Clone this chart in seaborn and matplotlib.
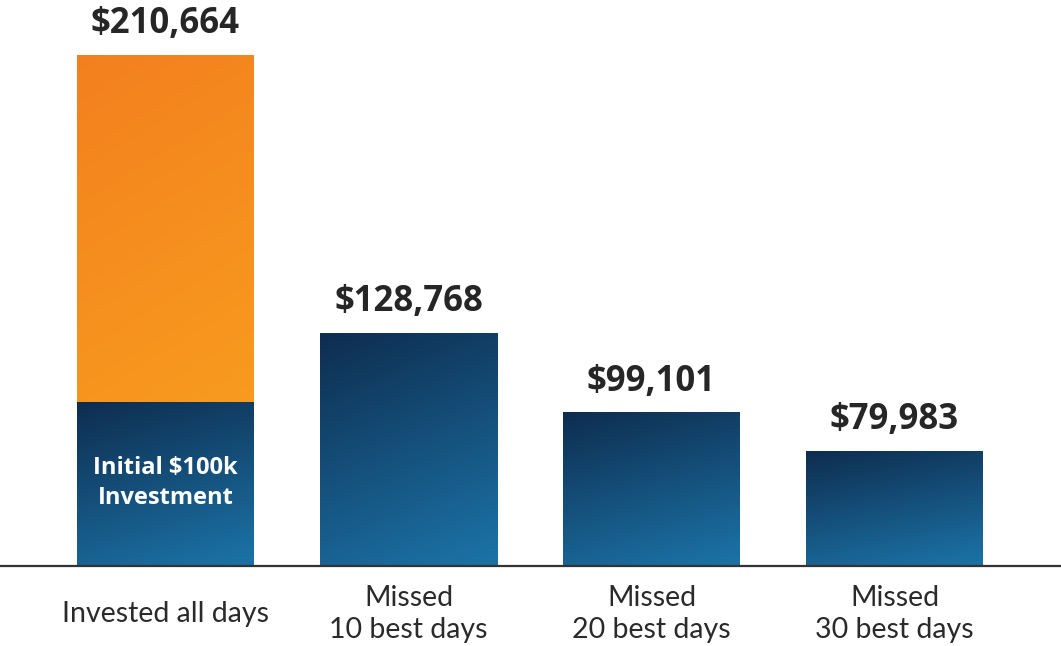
import numpy as np
import pandas as pd
import matplotlib
matplotlib.use("Agg")
import matplotlib.pyplot as plt
import seaborn as sns
from matplotlib.colors import to_rgb

# ---- data ----
categories = ["Invested all days", "Missed\n10 best days", "Missed\n20 best days", "Missed\n30 best days"]
ending_values = [210664, 128768, 99101, 79983]
# The reference draws its bars not to scale; these are the bar lengths read off the
# picture, in dollars of the first (full-scale) bar.
bar_heights = [210664, 96000, 63100, 47400]
initial_height = 67200
initial_label = "Initial $100k\nInvestment"

# ---- style ----
sns.set_theme(style="white")
plt.rcParams["font.family"] = ["Open Sans", "DejaVu Sans"]

navy_top, navy_bot = np.array(to_rgb("#0e2d4f")), np.array(to_rgb("#1b71a4"))
orange_top, orange_bot = np.array(to_rgb("#f3801f")), np.array(to_rgb("#f89a1e"))
text_dark = "#262626"

fig = plt.figure(figsize=(10.61, 6.46), dpi=100)
ax = fig.add_axes([0, 80 / 646, 1, 566 / 646])

df = pd.DataFrame({"category": categories, "height": bar_heights})
sns.barplot(data=df, x="category", y="height", ax=ax, width=177 / 243,
            color="#1b5a8a", saturation=1, errorbar=None)


def gradient(x0, x1, y0, y1, c0, c1):
    n = 256
    u = np.linspace(0, 1, n)[None, :]
    v = np.linspace(0, 1, n)[:, None]
    t = np.clip(0.8 * v + 0.25 * u, 0, 1)
    rgb = c0 + (c1 - c0) * t[..., None]
    ax.imshow(rgb, extent=[x0, x1, y0, y1], origin="upper", aspect="auto",
              interpolation="bilinear", zorder=2)


for i, p in enumerate(ax.patches):
    x0, w, h = p.get_x(), p.get_width(), p.get_height()
    p.set_facecolor("none")
    p.set_edgecolor("none")
    if i == 0:
        gradient(x0, x0 + w, initial_height, h, orange_top, orange_bot)
        gradient(x0, x0 + w, 0, initial_height, navy_top, navy_bot)
        ax.text(x0 + w / 2, initial_height * 0.51, initial_label, ha="center", va="center",
                color="white", fontsize=17, fontweight="bold", linespacing=1.35, zorder=3)
    else:
        gradient(x0, x0 + w, 0, h, navy_top, navy_bot)
    ax.annotate(f"${ending_values[i]:,}", xy=(x0 + w / 2, h), xytext=(0, 22.5),
                textcoords="offset points", ha="center", va="center",
                fontsize=25, fontweight="bold", color=text_dark, zorder=3)

ax.set_xlim(-165.5 / 243, (1061 - 165.5) / 243)
ax.set_ylim(0, 210664 * 566 / 511)
ax.set_yticks([])
ax.set_xlabel("")
ax.set_ylabel("")
ax.tick_params(axis="x", length=0, pad=34.5)
for lab in ax.get_xticklabels():
    lab.set_va("center")
    lab.set_fontsize(20.5)
    lab.set_color("#2a2a2a")
    lab.set_linespacing(1.3)
    lab.set_family(["Lato", "DejaVu Sans"])

for s in ["top", "right", "left"]:
    ax.spines[s].set_visible(False)
ax.spines["bottom"].set_color("#333333")
ax.spines["bottom"].set_linewidth(1.6)
ax.spines["bottom"].set_zorder(4)

fig.savefig("out.png", dpi=100)
